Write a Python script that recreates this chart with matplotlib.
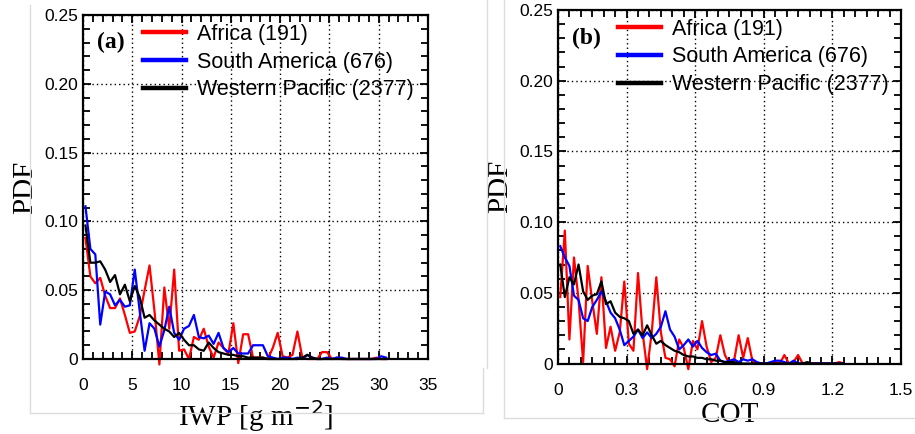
import numpy as np
import matplotlib
matplotlib.use('Agg')
import matplotlib.pyplot as plt
from matplotlib.lines import Line2D
from matplotlib.ticker import MultipleLocator

# Panel (a): IWP bins, 0.5 g m-2 wide
iwp_bins = np.arange(0.25, 31.0, 0.5)
iwp_africa = [0.088, 0.060, 0.055, 0.059, 0.046, 0.037, 0.037, 0.044, 0.032, 0.019,
              0.020, 0.031, 0.050, 0.068, 0.035, -0.004, 0.052, 0.022, 0.065, 0.006,
              0.007, 0.000, 0.016, 0.014, 0.022, 0.009, 0.001, 0.012, 0.008, 0.004,
              0.026, -0.003, 0.018, 0.018, 0.001, 0.001, 0.001, 0.000, 0.008, 0.019,
              0.002, 0.001, 0.003, 0.020, 0.001, 0.000, 0.000, 0.000, 0.005, 0.005,
              0.000, 0.001, 0.000, 0.000, 0.000, 0.000, 0.000, 0.000, 0.000, 0.001,
              0.000, 0.000]
iwp_samerica = [0.111, 0.080, 0.076, 0.025, 0.049, 0.047, 0.039, 0.043, 0.038, 0.039,
                0.065, 0.035, 0.006, 0.026, 0.022, 0.009, 0.021, 0.038, 0.019, 0.014,
                0.022, 0.024, 0.032, 0.016, 0.015, 0.017, 0.011, 0.019, 0.008, 0.005,
                0.008, 0.004, 0.004, 0.004, 0.010, 0.010, 0.010, 0.002, 0.001, 0.000,
                0.001, 0.001, 0.000, 0.001, 0.000, 0.003, 0.001, 0.000, 0.000, 0.001,
                0.000, 0.001, 0.001, 0.000, 0.000, 0.000, 0.000, 0.000, 0.000, 0.000,
                0.002, 0.001]
iwp_wpacific = [0.097, 0.070, 0.070, 0.071, 0.065, 0.056, 0.061, 0.047, 0.054, 0.042,
                0.053, 0.045, 0.030, 0.032, 0.028, 0.025, 0.022, 0.020, 0.016, 0.019,
                0.014, 0.010, 0.010, 0.007, 0.006, 0.012, 0.008, 0.005, 0.004, 0.003,
                0.003, 0.002, 0.002, 0.001, 0.001, 0.001, 0.001, 0.000, 0.000, 0.000,
                0.000, 0.000, 0.000, 0.000, 0.001, 0.003, 0.001, 0.000, 0.000, 0.000,
                0.000, 0.000, 0.000, 0.000, 0.000, 0.000, 0.000, 0.000, 0.000, 0.000,
                0.000, 0.000]

# Panel (b): COT bins, 0.02 wide
cot_bins = np.arange(0.01, 1.26, 0.02)
cot_africa = [0.047, 0.094, 0.017, 0.075, 0.045, 0.001, 0.069, 0.044, 0.021, 0.061,
              0.011, 0.026, 0.009, 0.022, 0.058, 0.014, 0.009, 0.064, 0.022, -0.004,
              0.022, 0.061, 0.022, 0.004, 0.003, -0.002, 0.017, 0.011, -0.004, 0.016,
              0.010, 0.030, 0.012, 0.001, 0.004, 0.020, 0.006, 0.000, 0.002, 0.020,
              0.004, 0.018, 0.002, 0.000, 0.000, 0.000, 0.000, 0.001, 0.000, 0.006,
              0.000, 0.001, 0.006, 0.000, 0.000, 0.000, 0.000, 0.000, 0.000, 0.000,
              0.000, 0.001, 0.000]
cot_samerica = [0.083, 0.075, 0.069, 0.048, 0.045, 0.032, 0.030, 0.040, 0.045, 0.051,
                0.044, 0.036, 0.032, 0.024, 0.013, 0.016, 0.019, 0.024, 0.018, 0.022,
                0.018, 0.021, 0.026, 0.037, 0.024, 0.019, 0.010, 0.013, 0.017, 0.012,
                0.016, 0.011, 0.008, 0.006, 0.007, 0.002, 0.001, 0.002, 0.003, 0.001,
                0.003, 0.002, 0.003, 0.001, 0.000, 0.000, 0.001, 0.002, 0.002, 0.001,
                0.000, 0.002, 0.000, 0.000, 0.000, 0.000, 0.000, 0.000, 0.000, 0.000,
                0.000, 0.000, 0.000]
cot_wpacific = [0.070, 0.047, 0.061, 0.056, 0.070, 0.051, 0.045, 0.048, 0.049, 0.058,
                0.042, 0.044, 0.036, 0.033, 0.032, 0.030, 0.021, 0.024, 0.020, 0.027,
                0.020, 0.014, 0.016, 0.013, 0.011, 0.009, 0.008, 0.006, 0.005, 0.005,
                0.004, 0.004, 0.003, 0.003, 0.002, 0.002, 0.001, 0.001, 0.001, 0.000,
                0.000, 0.000, 0.000, 0.000, 0.000, 0.000, 0.000, 0.000, 0.000, 0.000,
                0.000, 0.000, 0.000, 0.000, 0.001, 0.000, 0.000, 0.000, 0.000, 0.000,
                0.000, 0.000, 0.000]

iwp_ticks = [0, 5, 10, 15, 20, 25, 30, 35]
iwp_ticklabels = ['0', '5', '10', '15', '20', '25', '30', '35']
cot_ticks = [0, 0.3, 0.6, 0.9, 1.2, 1.5]
cot_ticklabels = ['0', '0.3', '0.6', '0.9', '1.2', '1.5']
pdf_ticks = [0, 0.05, 0.10, 0.15, 0.20, 0.25]
pdf_ticklabels = ['0', '0.05', '0.10', '0.15', '0.20', '0.25']

labels = ['Africa (191)', 'South America (676)', 'Western Pacific (2377)']
colors = ['red', 'blue', 'black']

plt.rcParams['font.family'] = ['Liberation Sans', 'DejaVu Sans']
serif = ['Liberation Serif', 'DejaVu Serif']

fig = plt.figure(figsize=(9.15, 4.34), dpi=100)

# faint frames of the two pasted panels
for xs, ys in [([0.033, 0.033], [0.988, 0.048]), ([0.033, 0.528], [0.048, 0.048]),
               ([0.532, 0.532], [1.0, 0.152]), ([0.528, 0.528], [0.152, 0.048]),
               ([0.551, 0.551], [1.0, 0.037]), ([0.551, 1.0], [0.037, 0.037])]:
    fig.add_artist(Line2D(xs, ys, color='#dcdcdc', lw=1.0, transform=fig.transFigure))

ax_a = fig.add_axes([0.0907, 0.1728, 0.3771, 0.7926])
ax_b = fig.add_axes([0.6098, 0.1624, 0.3749, 0.8146])


def style_panel(ax, xmax, xticks, xlabels, xminor, xlabel, tag):
    ax.set_xticks(xticks, xlabels)
    ax.set_yticks(pdf_ticks, pdf_ticklabels)
    ax.xaxis.set_minor_locator(MultipleLocator(xminor))
    ax.yaxis.set_minor_locator(MultipleLocator(0.01))
    ax.set_xlim(0, xmax)
    ax.set_ylim(0, 0.25)
    ax.tick_params(which='both', direction='in', top=True, right=True, width=1.3)
    ax.tick_params(which='major', length=6, labelsize=12.5)
    ax.tick_params(axis='x', which='major', pad=14)
    ax.tick_params(which='minor', length=5)
    for sp in ax.spines.values():
        sp.set_linewidth(1.6)
    ax.grid(True, which='major', color='black', linestyle=(0, (1, 2.2)), linewidth=1.0)
    ax.set_ylabel('PDF', family=serif, fontsize=21, labelpad=4)
    ax.set_xlabel(xlabel, family=serif, fontsize=21, labelpad=3)
    ax.text(0.04, 0.92, tag, transform=ax.transAxes, family=serif, fontsize=17,
            fontweight='bold', va='center')
    handles = [Line2D([], [], color=c, lw=3.2) for c in colors]
    ax.legend(handles, labels, loc='upper left', bbox_to_anchor=(0.15, 1.0),
              frameon=False, fontsize=15.5, handlelength=2.0, handletextpad=0.5,
              labelspacing=0.32, borderaxespad=0)


for series, c in zip([iwp_africa, iwp_samerica, iwp_wpacific], colors):
    ax_a.plot(iwp_bins, series, color=c, lw=1.6, clip_on=False)
for series, c in zip([cot_africa, cot_samerica, cot_wpacific], colors):
    ax_b.plot(cot_bins, series, color=c, lw=1.6, clip_on=False)

style_panel(ax_a, 35, iwp_ticks, iwp_ticklabels, 1, 'IWP [g m$^{-2}$]', '(a)')
style_panel(ax_b, 1.5, cot_ticks, cot_ticklabels, 0.05, 'COT', '(b)')

fig.savefig('out.png', dpi=100)
